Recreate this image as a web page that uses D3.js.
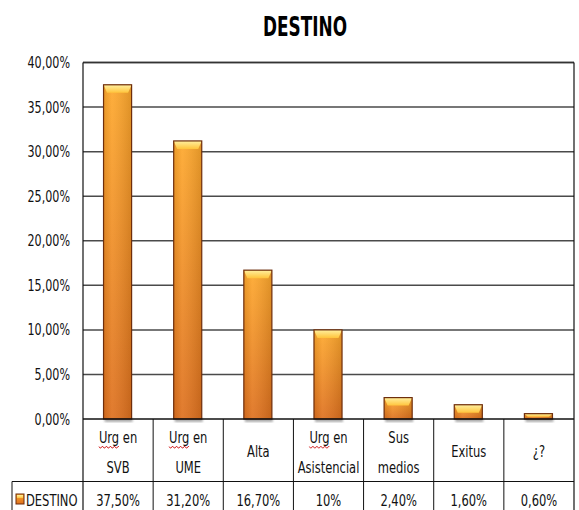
<!DOCTYPE html>
<html><head><meta charset="utf-8">
<script src="https://cdn.jsdelivr.net/npm/d3@7"></script>
<style>body{margin:0;background:#fff}svg{display:block}</style>
</head><body><svg id="c" width="579" height="510"></svg>
<script>
const categories = [["Urg en","SVB"],["Urg en","UME"],["Alta"],["Urg en","Asistencial"],["Sus","medios"],["Exitus"],["¿?"]];
const values = [37.5, 31.2, 16.7, 10, 2.4, 1.6, 0.6];
const valueLabels = ["37,50%","31,20%","16,70%","10%","2,40%","1,60%","0,60%"];
const yTicks = [0,5,10,15,20,25,30,35,40];
const seriesName = "DESTINO";
const title = "DESTINO";

const FONT = "'DejaVu Sans Condensed','DejaVu Sans',sans-serif";
const SX = 0.8, FS = 16;
const svg = d3.select("#c");
const L = 83, R = 574, T = 62.5, B = 419, rowSplit = 481.5, tableLeft = 12, bottom = 515;

const x = d3.scaleBand().domain(d3.range(categories.length)).range([L, R]).padding(0);
const y = d3.scaleLinear().domain([0, 40]).range([B, T]);

function txt(parent, s, tx, ty, anchor, fs) {
  return parent.append("text").attr("transform",`translate(${tx},${ty}) scale(${SX},1)`)
    .attr("text-anchor",anchor).attr("font-family",FONT).attr("font-size",fs||FS)
    .attr("fill","#111").text(s);
}

const defs = svg.append("defs");
const g = defs.append("linearGradient").attr("id","barg").attr("x1",0).attr("y1",0).attr("x2",0).attr("y2",1);
g.append("stop").attr("offset","0%").attr("stop-color","#fea82c");
g.append("stop").attr("offset","100%").attr("stop-color","#de701e");
const gh = defs.append("linearGradient").attr("id","barh").attr("x1",0).attr("y1",0).attr("x2",1).attr("y2",0);
gh.append("stop").attr("offset","0%").attr("stop-color","#000").attr("stop-opacity",0.08);
gh.append("stop").attr("offset","30%").attr("stop-color","#fff").attr("stop-opacity",0.08);
gh.append("stop").attr("offset","100%").attr("stop-color","#000").attr("stop-opacity",0.12);
const gt = defs.append("linearGradient").attr("id","topg").attr("x1",0).attr("y1",0).attr("x2",0).attr("y2",1);
gt.append("stop").attr("offset","0%").attr("stop-color","#fff0a0");
gt.append("stop").attr("offset","100%").attr("stop-color","#ffc43c");
defs.append("filter").attr("id","blur").append("feGaussianBlur").attr("stdDeviation",1.2);

// title
svg.append("text").attr("x",305).attr("y",36).attr("text-anchor","middle")
  .attr("font-family",FONT).attr("font-weight","bold").attr("font-size",26)
  .attr("textLength",84).attr("lengthAdjust","spacingAndGlyphs").text(title);

// gridlines
svg.append("g").selectAll("line").data(yTicks.filter(d=>d>0)).join("line")
  .attr("x1",L).attr("x2",R).attr("y1",d=>y(d)).attr("y2",d=>y(d))
  .attr("stroke","#4a4a4a").attr("stroke-width",1.5);

// y labels
const yl = svg.append("g");
yTicks.forEach(d => txt(yl, d3.format(".2f")(d).replace(".",",")+"%", 70, y(d)+5.5, "end", 15.5));

// bars
const bw = x.bandwidth()*0.4;
const bars = svg.append("g").selectAll("g").data(values).join("g")
  .attr("transform",(d,i)=>`translate(${x(i)+x.bandwidth()/2 - bw/2 - 0.5},0)`);
bars.append("rect").attr("x",1).attr("y",B-1).attr("width",bw).attr("height",4)
  .attr("fill","#777").attr("opacity",0.6).attr("filter","url(#blur)");
bars.append("rect").attr("x",0).attr("y",d=>y(d)).attr("width",bw).attr("height",d=>B-y(d))
  .attr("fill","url(#barg)");
bars.append("rect").attr("x",0).attr("y",d=>y(d)).attr("width",bw).attr("height",d=>B-y(d))
  .attr("fill","url(#barh)");
bars.append("path").attr("d",d=>{
  const h = Math.min(8, (B-y(d))*0.6), t=y(d);
  return `M0,${t}L${bw},${t}L${bw-3.5},${t+h}L3.5,${t+h}Z`;
}).attr("fill","url(#topg)");
bars.append("rect").attr("x",0).attr("y",d=>y(d)).attr("width",bw).attr("height",d=>B-y(d))
  .attr("fill","none").attr("stroke","#6e2e0c").attr("stroke-width",1.2);

// plot frame
svg.append("line").attr("x1",L).attr("x2",R).attr("y1",T).attr("y2",T).attr("stroke","#333").attr("stroke-width",1.5);
svg.append("line").attr("x1",L).attr("x2",L).attr("y1",T).attr("y2",bottom).attr("stroke","#111").attr("stroke-width",1.2);
svg.append("line").attr("x1",R).attr("x2",R).attr("y1",T).attr("y2",bottom).attr("stroke","#111").attr("stroke-width",1.2);

// table lines
const tl = svg.append("g").attr("stroke","#111").attr("stroke-width",1);
tl.append("line").attr("x1",L).attr("x2",R).attr("y1",B).attr("y2",B).attr("stroke-width",1.5);
tl.append("line").attr("x1",tableLeft).attr("x2",R).attr("y1",rowSplit).attr("y2",rowSplit);
tl.append("line").attr("x1",tableLeft).attr("x2",tableLeft).attr("y1",rowSplit).attr("y2",bottom);
tl.selectAll(".v").data(d3.range(1,categories.length)).join("line").attr("class","v")
  .attr("x1",i=>x(i)).attr("x2",i=>x(i)).attr("y1",B).attr("y2",bottom);

// category labels
const cg = svg.append("g");
categories.forEach((lines,i) => {
  const cx = x(i)+x.bandwidth()/2;
  const ys = lines.length===2 ? [443,473] : [457];
  lines.forEach((ln,k) => {
    const t = txt(cg, ln, cx, ys[k], "middle");
    if (ln.startsWith("Urg")) {
      const full = t.node().getComputedTextLength()*SX;
      const tmp = cg.append("text").attr("font-family",FONT).attr("font-size",FS).text("Urg");
      const w = tmp.node().getComputedTextLength()*SX; tmp.remove();
      let p = `M${cx-full/2},${ys[k]+3.5}`;
      for (let s=0; s<Math.floor(w/2); s++) p += `l1,${s%2?-1.5:1.5}l1,0`;
      cg.append("path").attr("d",p).attr("fill","none").attr("stroke","#d02020").attr("stroke-width",0.9);
    }
  });
});

// value row
const vr = svg.append("g");
valueLabels.forEach((d,i) => txt(vr, d, x(i)+x.bandwidth()/2, 506, "middle"));

// legend key
const lg = svg.append("g").attr("transform","translate(16,494)");
lg.append("rect").attr("width",8).attr("height",10).attr("fill","url(#barg)").attr("stroke","#6e2e0c").attr("stroke-width",1);
lg.append("rect").attr("x",1).attr("y",1).attr("width",6).attr("height",3).attr("fill","url(#topg)");
txt(svg, seriesName, 26, 506, "start");
</script></body></html>
